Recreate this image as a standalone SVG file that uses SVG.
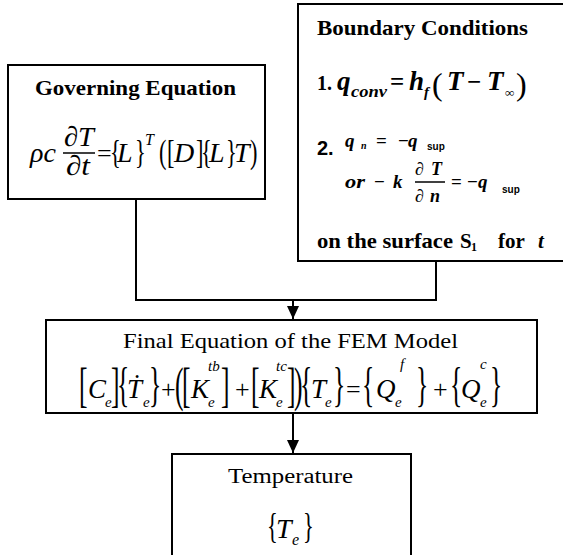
<svg xmlns="http://www.w3.org/2000/svg" width="563" height="555" viewBox="0 0 563 555">
<defs>
<style>
.box{fill:#fff;stroke:#000;stroke-width:2}
.ln{fill:none;stroke:#000;stroke-width:2}
.t{font-family:"Liberation Serif","Times New Roman",serif;fill:#000}
.s{font-family:"Liberation Sans",Arial,sans-serif;fill:#000}
.b{font-weight:bold}
.i{font-style:italic}
.m{font-family:"Liberation Serif","Times New Roman",serif;font-style:italic;font-size:28px;fill:#000}
.mf{font-family:"Liberation Serif","Times New Roman",serif;font-style:italic;font-size:27px;fill:#000}
.sm{font-family:"Liberation Serif","Times New Roman",serif;font-style:italic;font-size:16px;fill:#000}
.ss{font-family:"Liberation Serif","Times New Roman",serif;font-style:italic;font-size:15px;fill:#000}
.br{font-family:"Liberation Serif","Times New Roman",serif;font-size:28px;fill:#000}
.bq{font-family:"Liberation Serif","Times New Roman",serif;font-size:34px;fill:#000}
.bi{font-family:"Liberation Serif","Times New Roman",serif;font-style:italic;font-weight:bold;fill:#000}
</style>
<marker id="ah" viewBox="0 0 13 12" refX="13" refY="6" markerWidth="13" markerHeight="12" markerUnits="userSpaceOnUse" orient="auto">
<path d="M0,0 L13,6 L0,12 z" fill="#000"/>
</marker>
</defs>
<rect width="563" height="555" fill="#fff"/>

<g id="connectors">
<path class="ln" d="M136,199 V300 H436 V261"/>
<path class="ln" d="M293,300 V319" marker-end="url(#ah)"/>
<path class="ln" d="M293,413 V453" marker-end="url(#ah)"/>
</g>

<g id="governing">
<rect class="box" x="8" y="65" width="257" height="134"/>
<text class="t b" x="35" y="95" font-size="22" textLength="201" lengthAdjust="spacingAndGlyphs">Governing Equation</text>
<text class="m" x="30" y="162">ρc</text>
<text class="m" x="64" y="146" font-size="25" textLength="30" lengthAdjust="spacingAndGlyphs">∂T</text>
<line x1="63" y1="153" x2="95" y2="153" stroke="#000" stroke-width="1.5"/>
<text class="m" x="66" y="175" font-size="25" textLength="24" lengthAdjust="spacingAndGlyphs">∂t</text>
<text class="t" x="97" y="162" font-size="26">=</text>
<text class="br" transform="matrix(0.8,0,0,1.2,110,163)">{</text>
<text class="m" x="117" y="162">L</text>
<text class="br" transform="matrix(0.8,0,0,1.2,135,163)">}</text>
<text class="sm" x="145" y="145">T</text>
<text class="br" transform="matrix(0.8,0,0,1.2,159,163)">(</text>
<text class="br" transform="matrix(0.8,0,0,1.2,167,163)">[</text>
<text class="m" x="174" y="162">D</text>
<text class="br" transform="matrix(0.8,0,0,1.2,196,163)">]</text>
<text class="br" transform="matrix(0.8,0,0,1.2,201,163)">{</text>
<text class="m" x="209" y="162">L</text>
<text class="br" transform="matrix(0.8,0,0,1.2,226,163)">}</text>
<text class="m" x="234" y="162">T</text>
<text class="br" transform="matrix(0.8,0,0,1.2,250,163)">)</text>
</g>

<g id="boundary">
<rect class="box" x="298" y="4" width="275" height="257"/>
<text class="t b" x="317" y="35" font-size="22" textLength="211" lengthAdjust="spacingAndGlyphs">Boundary Conditions</text>
<text class="t b" x="317" y="90" font-size="20">1.</text>
<text class="bi" x="337" y="90" font-size="27">q</text>
<text class="bi" x="351" y="97" font-size="17" textLength="36" lengthAdjust="spacingAndGlyphs">conv</text>
<text class="t b" x="390" y="90" font-size="25">=</text>
<text class="bi" x="409" y="90" font-size="27">h</text>
<text class="bi" x="424" y="97" font-size="15">f</text>
<text class="t" x="432" y="95" font-size="32">(</text>
<text class="bi" x="447" y="90" font-size="27">T</text>
<text class="t b" x="467" y="90" font-size="25">−</text>
<text class="bi" x="487" y="90" font-size="27">T</text>
<text class="t b" x="505" y="97" font-size="13">∞</text>
<text class="t" x="516" y="95" font-size="32">)</text>

<text class="s b" x="317" y="155" font-size="20">2.</text>
<text class="bi" x="345" y="147" font-size="19">q</text>
<text class="bi" x="361" y="149" font-size="10">n</text>
<text class="t b" x="376" y="147" font-size="19">=</text>
<text class="t b" x="398" y="147" font-size="19">−</text>
<text class="bi" x="408" y="147" font-size="19">q</text>
<text class="s b" x="427" y="150" font-size="10">sup</text>

<text class="bi" x="345" y="188" font-size="19" textLength="20" lengthAdjust="spacingAndGlyphs">or</text>
<text class="t b" x="374" y="188" font-size="19">−</text>
<text class="bi" x="393" y="188" font-size="19">k</text>
<text class="bi" x="415" y="175" font-size="18" textLength="27" lengthAdjust="spacing">∂T</text>
<line x1="415" y1="182" x2="445" y2="182" stroke="#000" stroke-width="1.5"/>
<text class="bi" x="415" y="202" font-size="18" textLength="25" lengthAdjust="spacing">∂n</text>
<text class="t b" x="451" y="188" font-size="19">=</text>
<text class="t b" x="467" y="188" font-size="19">−</text>
<text class="bi" x="478" y="188" font-size="19">q</text>
<text class="s b" x="502" y="193" font-size="10">sup</text>

<text class="t b" x="317" y="248" font-size="21" textLength="136" lengthAdjust="spacingAndGlyphs">on the surface</text>
<text class="t b" x="460" y="248" font-size="21">S</text>
<text class="t b" x="471" y="251" font-size="12">1</text>
<text class="t b" x="498" y="248" font-size="21">for</text>
<text class="bi" x="538" y="248" font-size="21">t</text>
</g>

<g id="fem">
<rect class="box" x="46" y="320" width="491" height="93"/>
<text class="t" x="123" y="348" font-size="21" textLength="335" lengthAdjust="spacingAndGlyphs">Final Equation of the FEM Model</text>
<text class="bq" transform="matrix(0.75,0,0,1.4,79,401)">[</text>
<text class="mf" x="88" y="398">C</text>
<text class="ss" x="105" y="407">e</text>
<text class="bq" transform="matrix(0.75,0,0,1.4,111,401)">]</text>
<text class="bq" transform="matrix(0.75,0,0,1.4,117,401)">{</text>
<text class="mf" x="127" y="398">Ṫ</text>
<text class="ss" x="143" y="407">e</text>
<text class="bq" transform="matrix(0.75,0,0,1.4,149,401)">}</text>
<text class="t" x="161" y="398" font-size="26">+</text>
<text class="bq" transform="matrix(0.75,0,0,1.4,175,401)">(</text>
<text class="bq" transform="matrix(0.75,0,0,1.4,182,401)">[</text>
<text class="mf" x="191" y="398">K</text>
<text class="ss" x="208" y="371" font-size="16">tb</text>
<text class="ss" x="208" y="407">e</text>
<text class="bq" transform="matrix(0.75,0,0,1.4,221,401)">]</text>
<text class="t" x="235" y="398" font-size="26">+</text>
<text class="bq" transform="matrix(0.75,0,0,1.4,251,401)">[</text>
<text class="mf" x="259" y="398">K</text>
<text class="ss" x="276" y="371" font-size="16">tc</text>
<text class="ss" x="276" y="407">e</text>
<text class="bq" transform="matrix(0.75,0,0,1.4,287,401)">]</text>
<text class="bq" transform="matrix(0.75,0,0,1.4,294,401)">)</text>
<text class="bq" transform="matrix(0.75,0,0,1.4,300,401)">{</text>
<text class="mf" x="311" y="398">T</text>
<text class="ss" x="325" y="407">e</text>
<text class="bq" transform="matrix(0.75,0,0,1.4,333,401)">}</text>
<text class="t" x="346" y="398" font-size="26">=</text>
<text class="bq" transform="matrix(0.75,0,0,1.4,362,401)">{</text>
<text class="mf" x="376" y="398">Q</text>
<text class="ss" x="400" y="369" font-size="16">f</text>
<text class="ss" x="395" y="407">e</text>
<text class="bq" transform="matrix(0.75,0,0,1.4,416,401)">}</text>
<text class="t" x="433" y="398" font-size="26">+</text>
<text class="bq" transform="matrix(0.75,0,0,1.4,450,401)">{</text>
<text class="mf" x="461" y="398">Q</text>
<text class="ss" x="480" y="369" font-size="16">c</text>
<text class="ss" x="480" y="407">e</text>
<text class="bq" transform="matrix(0.75,0,0,1.4,490,401)">}</text>
</g>

<g id="temperature">
<rect class="box" x="172" y="454" width="239" height="112"/>
<text class="t" x="228" y="483" font-size="20" textLength="125" lengthAdjust="spacingAndGlyphs">Temperature</text>
<text class="br" transform="matrix(0.8,0,0,1.25,267,538)">{</text>
<text class="m" x="276" y="538">T</text>
<text class="sm" x="292" y="545">e</text>
<text class="br" transform="matrix(0.8,0,0,1.25,303,538)">}</text>
</g>
</svg>
